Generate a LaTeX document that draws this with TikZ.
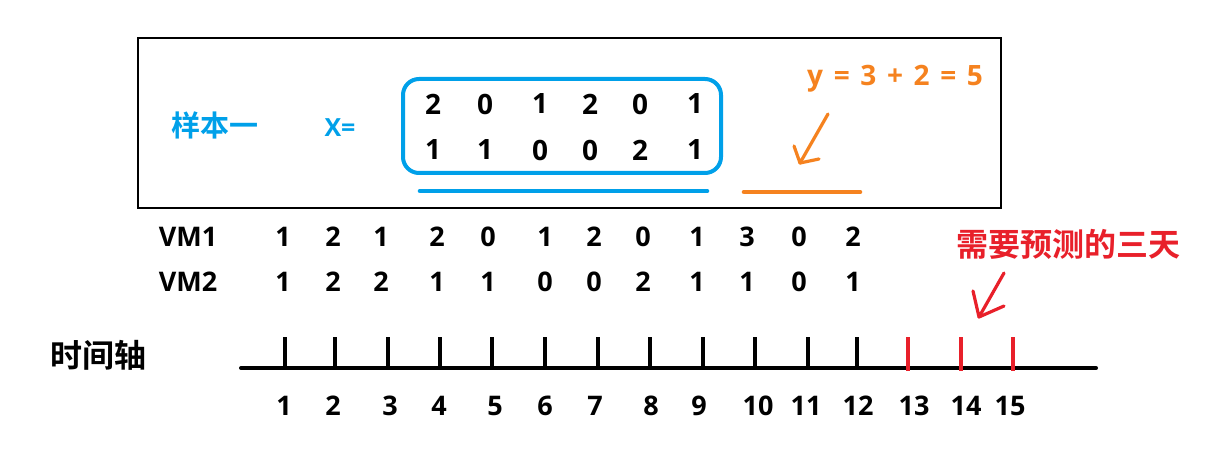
\documentclass[tikz,border=0pt]{standalone}
\usepackage{fontspec}
\setmainfont{Open Sans}
\newfontfamily\cjk{Noto Sans CJK SC}[BoldFont={Noto Sans CJK SC Bold}]
\definecolor{cblue}{HTML}{00A0E9}
\definecolor{corange}{HTML}{F5821F}
\definecolor{cred}{HTML}{E8202A}
\tikzset{
  num/.style={font=\fontsize{13.5}{14}\selectfont\bfseries, inner sep=0pt, anchor=center},
  cjkt/.style={font=\cjk\fontsize{15.5}{16}\selectfont\bfseries, inner sep=0pt, anchor=center},
  tick/.style={line width=1.8pt},
  handarrow/.style={line width=1.6pt, line cap=round, line join=round},
}
\begin{document}
\begin{tikzpicture}[x=0.5pt,y=-0.5pt]
\useasboundingbox (0,0) rectangle (1213,454);
% outer frame
\draw[line width=1pt] (138,38) rectangle (1001,208);
\node[cjkt, text=cblue, font=\cjk\fontsize{14.5}{15}\selectfont\bfseries] (s1) at (215,125) {样本一};
\node[num, text=cblue, font=\fontsize{12.5}{13}\selectfont\bfseries] (X) at (340,128) {X=};
\draw[cblue, line width=2pt, rounded corners=8pt] (403,79) rectangle (721,173);
\foreach \x/\a/\b [count=\i] in {433/2/1,485/0/1,540/1/0,590/2/0,640/0/2,695/1/1}{
  \node[num, font=\fontsize{14}{15}\selectfont\bfseries] (ma\i) at (\x,104) {\a};
  \node[num, font=\fontsize{14}{15}\selectfont\bfseries] (mb\i) at (\x,150) {\b};
}
\draw[cblue, line width=2.3pt, line cap=round] (420,191) -- (707,191);
\draw[corange, line width=2.3pt, line cap=round] (744,192) -- (860,192);
\node[num, text=corange, font=\fontsize{14}{15}\selectfont\bfseries] (y) at (895,79) {y\hspace{0.38em}=\hspace{0.38em}3\hspace{0.38em}+\hspace{0.38em}2\hspace{0.38em}=\hspace{0.38em}5};
% orange arrow
\coordinate (oa1) at (828,114);
\coordinate (oa2) at (800,163);
\draw[corange, handarrow] (oa1) -- (oa2) -- (794,146);
\draw[corange, handarrow] (oa2) -- (819,159);
% VM rows
\node[num] (vm1) at (188,237) {VM1};
\node[num] (vm2) at (188,282) {VM2};
\foreach \x/\a/\b [count=\i] in {283/1/1,333/2/2,381/1/2,437/2/1,488/0/1,545/1/0,594/2/0,643/0/2,697/1/1,747/3/1,799/0/0,853/2/1}{
  \node[num] (va\i) at (\x,237) {\a};
  \node[num] (vb\i) at (\x,282) {\b};
}
\node[cjkt, text=cred, font=\cjk\fontsize{16}{17}\selectfont\bfseries] (pred) at (1068,244) {需要预测的三天};
\coordinate (ra1) at (1004,273);
\coordinate (ra2) at (979,317);
\draw[cred, handarrow] (ra1) -- (ra2) -- (973,291);
\draw[cred, handarrow] (ra2) -- (1004,306);
% time axis
\node[cjkt, font=\cjk\fontsize{16}{17}\selectfont\bfseries] (axl) at (98,355) {时间轴};
\coordinate (axA) at (241,368);
\coordinate (axB) at (1096,368);
\draw[line width=2pt, line cap=round] (axA) -- (axB);
\foreach \x in {285,335,388,440,492,545,598,650,703,755,808,857}{
  \draw[tick] (\x,337) -- (\x,368);
}
\foreach \x in {908,961,1013}{
  \draw[tick, cred] (\x,337) -- (\x,371);
}
\foreach \x [count=\i] in {284,333,390,439,495,545,595,651,699,758,806,858,914,966,1010}{
  \node[num] (t\i) at (\x,406) {\i};
}
\end{tikzpicture}
\end{document}
